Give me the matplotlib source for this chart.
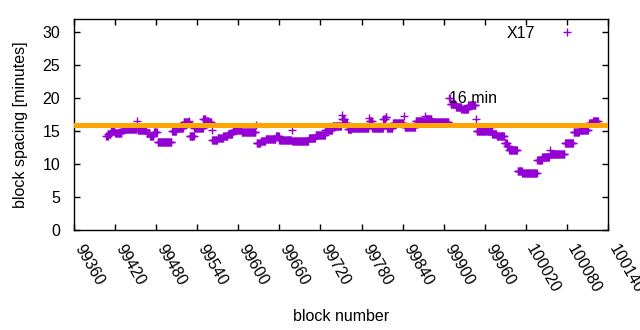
import numpy as np
import matplotlib
matplotlib.use("Agg")
import matplotlib.pyplot as plt
from matplotlib.transforms import ScaledTranslation

plt.rcParams['font.family'] = ['Liberation Sans', 'DejaVu Sans']

# Run-length encoded block spacing values
run_start = [99407, 99410, 99414, 99420, 99430, 99452, 99453, 99466, 99471, 99477,
             99482, 99503, 99510, 99520, 99528, 99529, 99536, 99549, 99553, 99557,
             99561, 99562, 99570, 99578, 99585, 99592, 99605, 99626, 99627, 99633,
             99640, 99655, 99660, 99678, 99679, 99703, 99713, 99727, 99738, 99751,
             99752, 99756, 99760, 99766, 99791, 99792, 99796, 99812, 99815, 99817,
             99826, 99842, 99843, 99859, 99873, 99874, 99883, 99908, 99910, 99918,
             99926, 99936, 99947, 99948, 99970, 99971, 99978, 99989, 99993, 99996,
             100008, 100015, 100037, 100044, 100055, 100056, 100077, 100090, 100098, 100112,
             100118]
run_value = [14.2, 14.6, 15.0, 14.7, 15.3, 16.5, 15.2, 14.7, 14.2, 14.8,
             13.4, 15.0, 15.4, 16.4, 16.6, 14.3, 15.4, 16.9, 16.6, 16.4,
             15.2, 13.6, 13.9, 14.3, 14.6, 15.1, 14.9, 16.0, 13.2, 13.5,
             13.8, 14.2, 13.7, 15.2, 13.5, 14.0, 14.4, 15.2, 15.8, 17.5,
             16.9, 16.3, 15.3, 15.5, 17.0, 16.6, 15.5, 16.8, 17.1, 15.5,
             16.3, 17.3, 15.6, 16.5, 17.3, 16.8, 16.4, 20.0, 19.1, 18.7,
             18.3, 18.9, 16.8, 15.0, 15.6, 14.6, 14.2, 13.2, 12.8, 12.2,
             8.9, 8.7, 10.6, 11.0, 12.1, 11.5, 13.2, 14.9, 15.2, 16.2,
             16.5]
last_block = 100125

target_minutes = 16
series_label = "X17"
target_label = "16 min"
x_ticks = list(range(99360, 100141, 60))
y_ticks = [0, 5, 10, 15, 20, 25, 30]

lengths = np.diff(run_start + [last_block + 1])
blocks = np.arange(run_start[0], last_block + 1)
spacing = np.repeat(run_value, lengths)

FS = 11.5
fig = plt.figure(figsize=(6.4, 3.3), dpi=100)
ax = fig.add_axes([74/640, 1 - 230/330, (608-74)/640, (230-19)/330])

ax.plot(blocks, spacing, linestyle='none', marker='+', ms=6.3, mew=1.0,
        color='#9400D3', label=series_label, zorder=2)
ax.axhline(target_minutes, color='#FFA500', lw=3.6, zorder=3)
ax.text(99908, 20, target_label, fontsize=FS, ha='left', va='center', zorder=4)

ax.set_xlim(99360, 100140)
ax.set_ylim(0, 32)
ax.set_xticks(x_ticks)
ax.set_yticks(y_ticks)
ax.set_xticklabels([str(t) for t in x_ticks], rotation=-60, ha='left', va='center',
                   rotation_mode='anchor', fontsize=FS)
ax.set_yticklabels([str(t) for t in y_ticks], fontsize=FS)
ax.tick_params(direction='in', top=True, right=True, length=4, width=1)
ax.tick_params(axis='x', pad=11)
ax.tick_params(axis='y', pad=10)
offset = ScaledTranslation(3/72, 0, fig.dpi_scale_trans)
for lab in ax.get_xticklabels():
    lab.set_transform(lab.get_transform() + offset)
for s in ax.spines.values():
    s.set_linewidth(1.0)

ax.set_xlabel("block number", fontsize=FS, labelpad=10)
ax.set_ylabel("block spacing [minutes]", fontsize=FS, labelpad=10)

leg = ax.legend(loc='upper right', bbox_to_anchor=(0.968, 1.007), markerfirst=False,
                frameon=False, fontsize=FS, handlelength=2.0, handletextpad=1.0,
                borderaxespad=0.2, borderpad=0.3)

fig.savefig("out.png", dpi=100)
